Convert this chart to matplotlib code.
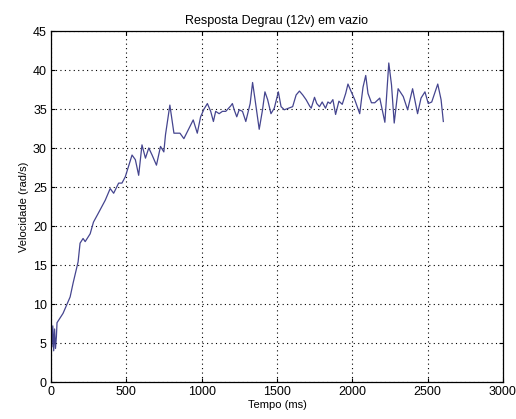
import matplotlib
matplotlib.use("Agg")
import matplotlib.pyplot as plt

# Step response of the motor at 12 V, no load
tempo_ms = [0, 6, 12, 18, 24, 30, 36, 40, 80, 127, 147, 180, 193, 213, 227, 260, 282,
            313, 360, 393, 416, 449, 471, 493, 538, 560, 582, 604, 627, 649, 671,
            700, 727, 749, 760, 789, 816, 856, 882, 944, 971, 993, 1016, 1038, 1060,
            1078, 1093, 1116, 1138, 1160, 1193, 1204, 1216, 1233, 1249, 1271, 1293,
            1322, 1338, 1353, 1382, 1404, 1420, 1438, 1460, 1482, 1509, 1527, 1549,
            1576, 1604, 1627, 1649, 1671, 1693, 1716, 1727, 1749, 1764, 1782, 1800,
            1822, 1838, 1853, 1871, 1889, 1911, 1933, 1956, 1971, 1993, 2016, 2027,
            2049, 2071, 2089, 2104, 2127, 2149, 2182, 2216, 2242, 2260, 2278, 2304,
            2338, 2367, 2400, 2433, 2456, 2482, 2504, 2527, 2567, 2589, 2604]
velocidade = [6.5, 4.5, 7.2, 4.0, 6.8, 4.3, 5.8, 7.6, 8.8, 10.9, 12.7, 15.4, 17.8, 18.4,
              18.0, 19.0, 20.5, 21.6, 23.3, 24.8, 24.2, 25.5, 25.5, 26.3, 29.1, 28.5,
              26.5, 30.4, 28.7, 30.0, 29.1, 27.8, 30.2, 29.5, 31.7, 35.5, 31.9, 31.9,
              31.2, 33.6, 31.9, 34.0, 35.0, 35.7, 34.7, 33.4, 34.7, 34.4, 34.7, 34.7,
              35.4, 35.7, 34.9, 34.0, 34.9, 34.7, 33.4, 35.7, 38.4, 36.4, 32.4, 34.9,
              37.2, 36.2, 34.4, 35.1, 37.2, 35.3, 34.9, 35.1, 35.3, 36.8, 37.3, 36.8,
              36.2, 35.4, 35.1, 36.5, 35.7, 35.3, 35.9, 35.1, 35.9, 35.7, 36.2, 34.3,
              36.0, 35.6, 37.0, 38.2, 37.2, 36.2, 35.6, 34.4, 37.8, 39.3, 37.0, 35.8,
              35.8, 36.4, 33.3, 40.9, 38.1, 33.2, 37.6, 36.6, 34.9, 37.6, 34.4, 36.4,
              37.2, 35.7, 35.9, 38.2, 36.2, 33.4]

x_ticks = [0, 500, 1000, 1500, 2000, 2500, 3000]
y_ticks = [0, 5, 10, 15, 20, 25, 30, 35, 40, 45]

plt.rcParams['font.family'] = ['Liberation Sans', 'DejaVu Sans']

fig = plt.figure(figsize=(5.16, 4.19), dpi=100)
ax = fig.add_axes([0.0988, 0.0883, 0.8760, 0.8377])

ax.plot(tempo_ms, velocidade, color='#45458f', linewidth=0.9)

ax.set_xlim(0, 3000)
ax.set_ylim(0, 45)
ax.set_xticks(x_ticks)
ax.set_yticks(y_ticks)
ax.tick_params(direction='in', length=3, labelsize=9, top=True, right=True, pad=3)
ax.grid(True, linestyle=(0, (1, 3)), color='black', linewidth=0.8)
for s in ax.spines.values():
    s.set_linewidth(0.9)

ax.set_title('Resposta Degrau (12v) em vazio', fontsize=9, pad=5)
ax.set_xlabel('Tempo (ms)', fontsize=8, labelpad=1)
ax.set_ylabel('Velocidade (rad/s)', fontsize=8, labelpad=3)

fig.savefig('out.png', dpi=100)
